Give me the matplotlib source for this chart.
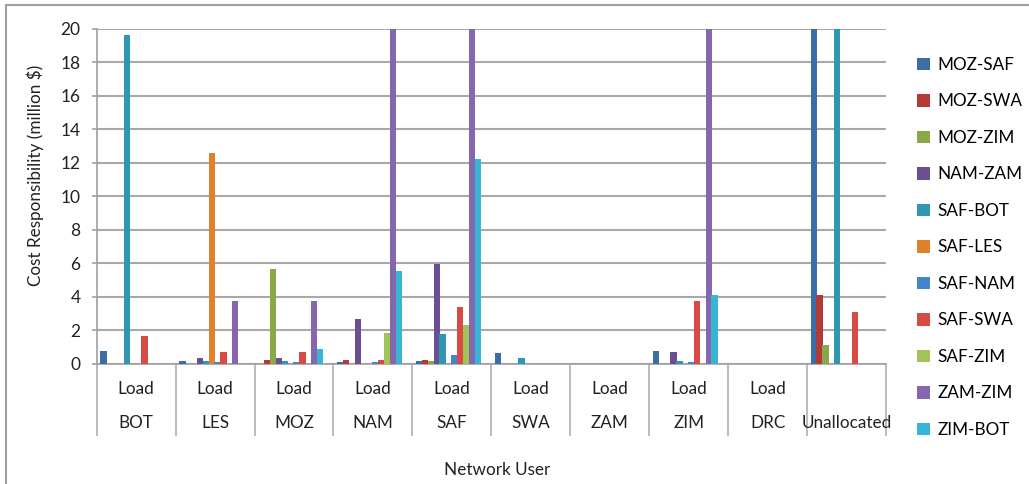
import matplotlib
matplotlib.use('Agg')
import matplotlib.pyplot as plt
from matplotlib.patches import Patch
from matplotlib.lines import Line2D

plt.rcParams['font.family'] = ['Lato', 'DejaVu Sans']

# network users (x categories)
users = ['BOT', 'LES', 'MOZ', 'NAM', 'SAF', 'SWA', 'ZAM', 'ZIM', 'DRC', 'Unallocated']
first_line = ['Load', 'Load', 'Load', 'Load', 'Load', 'Load', 'Load', 'Load', 'Load', '']

# cost responsibility per line (million $); bars above 20 are cut off by the axis
moz_saf = [0.78, 0.18, 0, 0.12, 0.18, 0.66, 0, 0.78, 0, 25]
moz_swa = [0, 0, 0.24, 0.24, 0.24, 0, 0, 0, 0, 4.11]
moz_zim = [0, 0, 5.66, 0, 0.18, 0, 0, 0, 0, 1.13]
nam_zam = [0, 0.36, 0.36, 2.68, 5.96, 0, 0, 0.72, 0, 0]
saf_bot = [19.6, 0.18, 0.18, 0, 1.79, 0.36, 0, 0.18, 0, 25]
saf_les = [0, 12.58, 0, 0, 0, 0, 0, 0, 0, 0]
saf_nam = [0, 0.12, 0.12, 0.12, 0.54, 0, 0, 0.12, 0, 0]
saf_swa = [1.67, 0.72, 0.72, 0.24, 3.4, 0, 0, 3.76, 0, 3.1]
saf_zim = [0, 0, 0, 1.85, 2.33, 0, 0, 0, 0, 0]
zam_zim = [0, 3.76, 3.76, 25, 25, 0, 0, 25, 0, 0]
zim_bot = [0, 0, 0.9, 5.55, 12.22, 0, 0, 4.11, 0, 0]

series = ['MOZ-SAF', 'MOZ-SWA', 'MOZ-ZIM', 'NAM-ZAM', 'SAF-BOT', 'SAF-LES',
          'SAF-NAM', 'SAF-SWA', 'SAF-ZIM', 'ZAM-ZIM', 'ZIM-BOT']
values = [moz_saf, moz_swa, moz_zim, nam_zam, saf_bot, saf_les,
          saf_nam, saf_swa, saf_zim, zam_zim, zim_bot]
colors = ['#3a6ea5', '#b33b35', '#8aa74a', '#6a5093', '#2f97b0', '#e0822b',
          '#4285cc', '#d64b44', '#a2c457', '#8467ae', '#36b5d4']

fig = plt.figure(figsize=(10.29, 4.84), dpi=100)
ax = fig.add_axes([0.094, 0.248, 0.767, 0.693])

step = 0.0744
width = 0.081
for i, (name, vals, c) in enumerate(zip(series, values, colors)):
    xs = [g - 0.5 + 0.085 + i * step for g in range(len(users))]
    ax.bar(xs, vals, width=width, color=c, zorder=3, label=name)

ax.set_xlim(-0.5, len(users) - 0.5)
ax.set_ylim(0, 20)
ax.set_yticks(range(0, 21, 2))
ax.tick_params(axis='y', length=3.6, width=1.2, color='#a0a0a0', labelsize=12.5,
               labelcolor='#222222', pad=8)
ax.yaxis.grid(True, color='#a8a8a8', linewidth=1.5, zorder=0)

# category separators as long x ticks
ax.set_xticks([g - 0.5 for g in range(len(users) + 1)])
ax.set_xticklabels([])
ax.tick_params(axis='x', length=52, width=1.2, color='#b0b0b0')

for s in ['top', 'right']:
    ax.spines[s].set_visible(False)
for s in ['left', 'bottom']:
    ax.spines[s].set_color('#a0a0a0')
    ax.spines[s].set_linewidth(1.2)

for g, (a, b) in enumerate(zip(first_line, users)):
    ax.text(g, -0.075, a, transform=ax.get_xaxis_transform(), ha='center', va='center',
            fontsize=12.3, color='#222222')
    ax.text(g, -0.175, b, transform=ax.get_xaxis_transform(), ha='center', va='center',
            fontsize=12.3, color='#222222')

fig.text(35 / 1029, 1 - 175 / 484, 'Cost Responsibility (million $)', rotation=90,
         ha='center', va='center', fontsize=12.3, color='#222222')
fig.text(497 / 1029, 1 - 470 / 484, 'Network User', ha='center', va='center',
         fontsize=12.3, color='#222222')

handles = [Patch(facecolor=c, label=n) for n, c in zip(series, colors)]
fig.legend(handles=handles, loc='upper left', bbox_to_anchor=(910 / 1029, 1 - 50 / 484),
           frameon=False, fontsize=12.3, handlelength=0.75, handleheight=0.75,
           handletextpad=0.45, labelspacing=1.2, borderaxespad=0)

# outer chart border (top and left visible)
fig.add_artist(Line2D([6 / 1029, 1], [1 - 4.7 / 484, 1 - 4.7 / 484],
                      transform=fig.transFigure, color='#a0a0a0', linewidth=1.5))
fig.add_artist(Line2D([6 / 1029, 6 / 1029], [0, 1 - 4.7 / 484],
                      transform=fig.transFigure, color='#a0a0a0', linewidth=1.5))

fig.savefig('out.png', dpi=100)
